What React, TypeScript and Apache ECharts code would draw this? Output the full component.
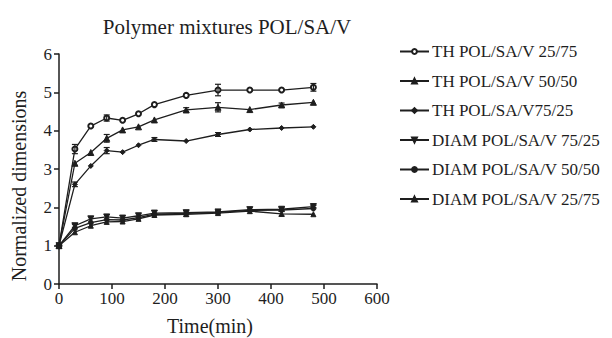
import React, { useEffect, useRef } from "react";
import * as echarts from "echarts";

const times = [0, 30, 60, 90, 120, 150, 180, 240, 300, 360, 420, 480];

const seriesNames = [
  "TH POL/SA/V 25/75",
  "TH POL/SA/V 50/50",
  "TH POL/SA/V75/25",
  "DIAM POL/SA/V 75/25",
  "DIAM POL/SA/V 50/50",
  "DIAM POL/SA/V 25/75",
];

const th2575 = [1, 3.52, 4.12, 4.33, 4.27, 4.44, 4.68, 4.92, 5.06, 5.06, 5.06, 5.13];
const th5050 = [1, 3.15, 3.43, 3.8, 4.02, 4.1, 4.28, 4.54, 4.61, 4.55, 4.67, 4.74];
const th7525 = [1, 2.6, 3.08, 3.48, 3.44, 3.62, 3.77, 3.73, 3.9, 4.03, 4.07, 4.1];
const diam7525 = [1, 1.52, 1.7, 1.75, 1.72, 1.78, 1.85, 1.86, 1.88, 1.94, 1.95, 2.02];
const diam5050 = [1, 1.45, 1.6, 1.68, 1.67, 1.73, 1.82, 1.84, 1.87, 1.92, 1.93, 1.97];
const diam2575 = [1, 1.35, 1.52, 1.62, 1.63, 1.7, 1.8, 1.82, 1.85, 1.9, 1.83, 1.82];

const err2575 = [0, 0.12, 0, 0.08, 0, 0, 0, 0, 0.15, 0, 0, 0.1];
const err5050 = [0, 0, 0, 0.1, 0, 0, 0, 0.06, 0.12, 0, 0.05, 0];
const err7525 = [0, 0.06, 0, 0.08, 0, 0, 0.05, 0, 0.05, 0, 0, 0];
const errD7525 = [0, 0.04, 0, 0, 0, 0, 0, 0, 0, 0, 0.05, 0.03];
const errD5050 = [0, 0, 0, 0, 0, 0, 0, 0.07, 0.04, 0, 0, 0];
const errD2575 = [0, 0, 0, 0, 0, 0, 0, 0, 0, 0, 0.06, 0];

const xTicks = [0, 100, 200, 300, 400, 500, 600];
const yTicks = [0, 1, 2, 3, 4, 5, 6];

const values = [th2575, th5050, th7525, diam7525, diam5050, diam2575];
const errors = [err2575, err5050, err7525, errD7525, errD5050, errD2575];
const symbols = [
  "emptyCircle",
  "triangle",
  "diamond",
  "path://M0,0 L10,0 L5,10 Z",
  "circle",
  "triangle",
];
const symbolSizes = [5, 6, 5, 6, 5, 5];

const INK = "#1e1e1e";
const FONT = "'Times New Roman', 'Liberation Serif', Times, serif";

export default function App() {
  const ref = useRef<HTMLDivElement>(null);

  useEffect(() => {
    if (!ref.current) return;
    const chart = echarts.init(ref.current, undefined, { renderer: "svg" });

    const lineSeries = seriesNames.map((name, i) => ({
      name,
      type: "line",
      data: times.map((t, j) => [t, values[i][j]]),
      symbol: symbols[i],
      symbolSize: symbolSizes[i],
      showAllSymbol: true,
      lineStyle: { color: INK, width: 1.3 },
      itemStyle: { color: INK, borderColor: INK, borderWidth: 1 },
      z: 3,
    }));

    const errSeries = seriesNames.map((name, i) => ({
      name: name + " err",
      type: "custom",
      data: times.map((t, j) => [t, values[i][j], errors[i][j]]),
      encode: { x: 0, y: 1 },
      z: 4,
      renderItem: (params: any, api: any) => {
        const x = api.value(0);
        const y = api.value(1);
        const e = api.value(2);
        if (!e) return null;
        const top = api.coord([x, y + e]);
        const bot = api.coord([x, y - e]);
        const cw = 3;
        const st = { stroke: INK, lineWidth: 1.2 };
        return {
          type: "group",
          children: [
            { type: "line", shape: { x1: top[0], y1: top[1], x2: bot[0], y2: bot[1] }, style: st },
            { type: "line", shape: { x1: top[0] - cw, y1: top[1], x2: top[0] + cw, y2: top[1] }, style: st },
            { type: "line", shape: { x1: bot[0] - cw, y1: bot[1], x2: bot[0] + cw, y2: bot[1] }, style: st },
          ],
        };
      },
    }));

    chart.setOption({
      animation: false,
      backgroundColor: "#ffffff",
      textStyle: { fontFamily: FONT },
      title: {
        text: "Polymer mixtures POL/SA/V",
        left: 222,
        top: 11,
        textAlign: "center",
        textStyle: { fontFamily: FONT, fontSize: 21, fontWeight: "normal", color: INK },
      },
      legend: {
        data: seriesNames,
        orient: "vertical",
        left: 394,
        top: 38,
        itemWidth: 29,
        itemHeight: 6,
        itemGap: 12.5,
        textStyle: { fontFamily: FONT, fontSize: 17, color: INK, padding: [0, 0, 0, -2] },
      },
      grid: { left: 59, top: 54, width: 318, height: 230 },
      xAxis: {
        type: "value",
        min: xTicks[0],
        max: xTicks[xTicks.length - 1],
        interval: 100,
        axisLine: { show: true, lineStyle: { color: INK, width: 1.5 } },
        axisTick: { show: true, inside: false, length: 5, lineStyle: { color: INK, width: 1.5 } },
        axisLabel: { fontFamily: FONT, fontSize: 17, color: INK, margin: 6 },
        splitLine: { show: false },
      },
      yAxis: {
        type: "value",
        min: yTicks[0],
        max: yTicks[yTicks.length - 1],
        interval: 1,
        axisLine: { show: true, lineStyle: { color: INK, width: 1.5 } },
        axisTick: { show: true, inside: false, length: 5, lineStyle: { color: INK, width: 1.5 } },
        axisLabel: { fontFamily: FONT, fontSize: 17, color: INK, margin: 7 },
        splitLine: { show: false },
      },
      graphic: [
        {
          type: "text",
          x: 210,
          y: 326,
          style: {
            text: "Time(min)",
            fontFamily: FONT,
            fontSize: 20,
            fill: INK,
            textAlign: "center",
            textVerticalAlign: "middle",
          },
        },
        {
          type: "text",
          x: 19,
          y: 186,
          rotation: Math.PI / 2,
          style: {
            text: "Normalized dimensions",
            fontFamily: FONT,
            fontSize: 20,
            fill: INK,
            textAlign: "center",
            textVerticalAlign: "middle",
          },
        },
      ],
      series: [...lineSeries, ...errSeries],
    });

    return () => chart.dispose();
  }, []);

  return (
    <div
      ref={ref}
      style={{ position: "absolute", left: 0, top: 0, width: 612, height: 338 }}
    />
  );
}
